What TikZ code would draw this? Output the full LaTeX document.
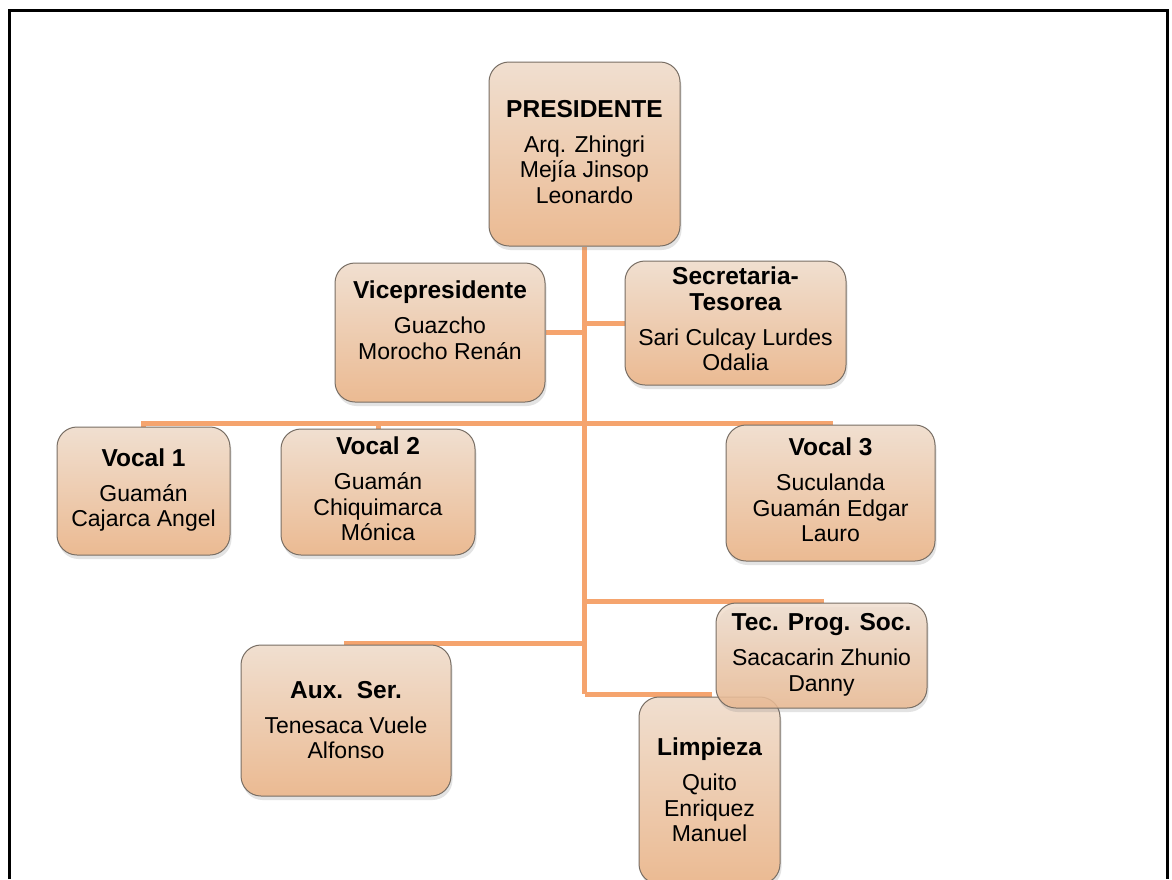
\documentclass[tikz,border=0pt]{standalone}
\usepackage{fontspec}
\setmainfont{Liberation Sans}
\usetikzlibrary{shadows}
\definecolor{lineor}{RGB}{245,164,110}
\definecolor{boxtop}{RGB}{240,223,208}
\definecolor{boxbot}{RGB}{235,186,146}
\definecolor{boxedge}{RGB}{120,110,100}
\newcommand{\ttl}[1]{{\fontsize{24.5}{26}\selectfont\bfseries #1}}
\pgfdeclarelayer{bg}
\pgfdeclarelayer{paper}
\pgfsetlayers{paper,bg,main}
\begin{document}
\begin{tikzpicture}[x=1pt,y=-1pt,
  orgbox/.style={rectangle, rounded corners=20pt, draw=boxedge, line width=1pt,
    top color=boxtop, bottom color=boxbot, inner sep=0pt,
    drop shadow={opacity=0.22, shadow xshift=1.5pt, shadow yshift=-4pt}},
  orgtext/.style={align=center, font=\fontsize{23}{25.5}\selectfont, inner sep=0pt},
  link/.style={draw=lineor, line width=5pt},
  frame/.style={draw=black, line width=3pt}]
\useasboundingbox (0,0) rectangle (1172,879);
\begin{pgfonlayer}{paper}
\fill[white] (0,0) rectangle (1172,879);
\end{pgfonlayer}
\clip (0,0) rectangle (1172,879);

% boxes
\node[orgbox, minimum width=191pt, minimum height=184pt] (pres) at (584.5,154) {};
\node[orgbox, minimum width=210pt, minimum height=139pt] (vice) at (440,332.5) {};
\node[orgbox, minimum width=221pt, minimum height=124pt] (sec) at (735.5,323) {};
\node[orgbox, minimum width=173pt, minimum height=128pt] (v1) at (143.5,491) {};
\node[orgbox, minimum width=194pt, minimum height=126pt] (v2) at (378,492) {};
\node[orgbox, minimum width=209pt, minimum height=136pt] (v3) at (830.5,493) {};
\node[orgbox, minimum width=210pt, minimum height=151pt] (aux) at (346,720.5) {};
\node[orgbox, minimum width=141pt, minimum height=187pt] (limp) at (709.5,790.5) {};
\node[orgbox, minimum width=211pt, minimum height=105pt, fill opacity=0.85] (tec) at (821.5,655.5) {};

% texts
\node[orgtext] (presT) at (584.5,152) {\ttl{PRESIDENTE}\\[9.5pt]Arq. Zhingri\\Mejía Jinsop\\Leonardo};
\node[orgtext] (viceT) at (440,320) {\ttl{Vicepresidente}\\[9.5pt]Guazcho\\Morocho Renán};
\node[orgtext] (secT) at (735.5,319) {\ttl{Secretaria-}\\\ttl{Tesorea}\\[9.5pt]Sari Culcay Lurdes\\Odalia};
\node[orgtext] (v1T) at (143.5,490) {\ttl{Vocal 1}\\[9.5pt]Guamán\\Cajarca Angel};
\node[orgtext] (v2T) at (378,489) {\ttl{Vocal 2}\\[9.5pt]Guamán\\Chiquimarca\\Mónica};
\node[orgtext] (v3T) at (830.5,490) {\ttl{Vocal 3}\\[9.5pt]Suculanda\\Guamán Edgar\\Lauro};
\node[orgtext] (tecT) at (821.5,655) {\ttl{Tec. Prog. Soc.}\\[9.5pt]Sacacarin Zhunio\\Danny};
\node[orgtext] (auxT) at (346,720) {\ttl{Aux.\ \ Ser.}\\[9.5pt]Tenesaca Vuele\\Alfonso};
\node[orgtext] (limpT) at (709.5,790) {\ttl{Limpieza}\\[9.5pt]Quito\\Enriquez\\Manuel};

% junctions on the trunk
\coordinate (bus) at (584.5,423);
\coordinate (jt) at (584.5,601);
\coordinate (ja) at (584.5,643);
\coordinate (jl) at (584.5,694);

\begin{pgfonlayer}{bg}
\draw[link] (pres.south) -- (jl);
\draw[link] (vice.east) -- (pres.south |- vice.east);
\draw[link] (sec.west) -- (pres.south |- sec.west);
\draw[link] (v1.north) |- (bus) -| (v3.north);
\draw[link] (v2.north) |- (bus);
\draw[link] (jt) -| (tec.north);
\draw[link] (ja) -| (aux.north);
\draw[link] (jl) -| (limp.north);
\end{pgfonlayer}

% page frame
\draw[frame] (9.5,879) -- (9.5,10.5) -- (1167.5,10.5) -- (1167.5,879);
\end{tikzpicture}
\end{document}
